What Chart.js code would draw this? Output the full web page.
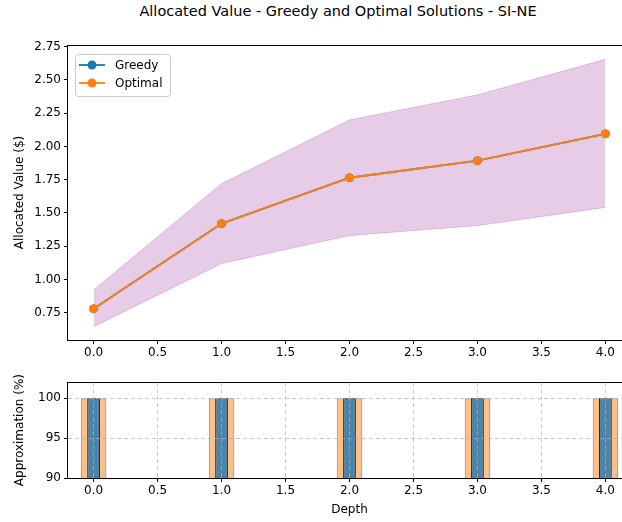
<!DOCTYPE html>
<html>
<head>
<meta charset="utf-8">
<script src="https://cdn.jsdelivr.net/npm/chart.js@4"></script>
<style>
  html, body { margin: 0; padding: 0; background: #fff; overflow: hidden; width: 622px; height: 522px; }
  #title { position: absolute; left: 0; width: 676px; top: 3px; text-align: center;
           font: 14.5px "DejaVu Sans"; color: #000; white-space: nowrap; }
  #valueChart { position: absolute; left: 0; top: 0; }
  #approxChart { position: absolute; left: 0; top: 372px; }
</style>
</head>
<body>
<div id="title">Allocated Value - Greedy and Optimal Solutions - SI-NE</div>
<canvas id="valueChart" width="650" height="372"></canvas>
<canvas id="approxChart" width="650" height="150"></canvas>
<script>
// Depth levels and results
const depths = [0, 1, 2, 3, 4];
const greedyValue  = [0.78, 1.42, 1.765, 1.893, 2.095];
const optimalValue = [0.78, 1.42, 1.765, 1.893, 2.095];
const rangeUpper   = [0.92, 1.72, 2.20, 2.388, 2.655];
const rangeLower   = [0.645, 1.12, 1.33, 1.405, 1.542];
const greedyApprox  = [100, 100, 100, 100, 100];
const optimalApprox = [100, 100, 100, 100, 100];

// Tick labels
const depthTicks  = [0, 0.5, 1, 1.5, 2, 2.5, 3, 3.5, 4];
const valueTicks  = [0.75, 1.0, 1.25, 1.5, 1.75, 2.0, 2.25, 2.5, 2.75];
const approxTicks = [90, 95, 100];

const FONT = 'DejaVu Sans';
Chart.defaults.font.family = FONT;
Chart.defaults.font.size = 12;
Chart.defaults.color = '#000';

const BLUE = '#1f77b4';
const ORANGE = '#ff7f0e';

const pts = (ys) => depths.map((d, i) => ({ x: d, y: ys[i] }));

// Axes frame drawn on top of the data
const frame = {
  id: 'frame',
  afterDraw(chart) {
    const a = chart.chartArea, ctx = chart.ctx;
    ctx.save();
    ctx.strokeStyle = '#000';
    ctx.lineWidth = 1;
    ctx.strokeRect(Math.round(a.left) - 0.5, Math.round(a.top) + 0.5,
                   Math.round(a.right - a.left) + 1, Math.round(a.bottom - a.top));
    ctx.restore();
  }
};

// Legend box placed inside the plot area, upper left
const insetLegend = {
  id: 'insetLegend',
  afterDraw(chart) {
    const a = chart.chartArea, ctx = chart.ctx;
    const items = chart.data.datasets.filter(d => d.inLegend);
    const x0 = a.left + 7, y0 = a.top + 9, w = 95, rowH = 18, h = items.length * rowH + 6;
    ctx.save();
    ctx.beginPath();
    ctx.roundRect(x0 + 0.5, y0 + 0.5, w, h, 3);
    ctx.fillStyle = 'rgba(255,255,255,0.8)';
    ctx.fill();
    ctx.strokeStyle = '#cccccc';
    ctx.lineWidth = 1;
    ctx.stroke();
    items.forEach((d, i) => {
      const y = y0 + 11 + i * rowH;
      ctx.strokeStyle = d.borderColor;
      ctx.lineWidth = 1.8;
      ctx.beginPath();
      ctx.moveTo(x0 + 4, y);
      ctx.lineTo(x0 + 30, y);
      ctx.stroke();
      ctx.fillStyle = d.borderColor;
      ctx.beginPath();
      ctx.arc(x0 + 17, y, 4.5, 0, Math.PI * 2);
      ctx.fill();
      ctx.fillStyle = '#000';
      ctx.font = '12px "' + FONT + '"';
      ctx.textBaseline = 'middle';
      ctx.textAlign = 'left';
      ctx.fillText(d.label, x0 + 40, y + 1);
    });
    ctx.restore();
  }
};

const fixedTicks = (list) => (scale) => { scale.ticks = list.map(v => ({ value: v })); };

new Chart(document.getElementById('valueChart'), {
  type: 'line',
  data: {
    datasets: [
      { label: 'Greedy', inLegend: true, data: pts(greedyValue), borderColor: BLUE, backgroundColor: BLUE,
        borderWidth: 1.8, pointRadius: 4, pointBorderWidth: 1, order: 1, fill: false },
      { label: 'Optimal', inLegend: true, data: pts(optimalValue), borderColor: ORANGE, backgroundColor: ORANGE,
        borderWidth: 1.8, pointRadius: 4, pointBorderWidth: 1, order: 0, fill: false },
      { label: 'upper', data: pts(rangeUpper), borderColor: 'rgba(128,0,128,0.2)', borderWidth: 1,
        backgroundColor: 'rgba(128,0,128,0.2)', pointRadius: 0, fill: '+1', order: 2 },
      { label: 'lower', data: pts(rangeLower), borderColor: 'rgba(128,0,128,0.2)', borderWidth: 1,
        backgroundColor: 'rgba(128,0,128,0.2)', pointRadius: 0, fill: false, order: 3 }
    ]
  },
  options: {
    responsive: false,
    animation: false,
    events: [],
    layout: { padding: { top: 45, right: 19, left: 0, bottom: 0 } },
    plugins: { legend: { display: false }, tooltip: { enabled: false } },
    scales: {
      x: {
        type: 'linear', min: -0.2, max: 4.2,
        afterFit(s) { s.height = 32; },
        afterBuildTicks: fixedTicks(depthTicks),
        grid: { drawOnChartArea: false, drawTicks: true, tickLength: 4, tickColor: '#000', color: '#000' },
        border: { display: false },
        ticks: { padding: 2, maxRotation: 0, autoSkip: false, callback: v => Number(v).toFixed(1) }
      },
      y: {
        type: 'linear', min: 0.545, max: 2.763,
        afterFit(s) { s.width = 68; },
        afterBuildTicks: fixedTicks(valueTicks),
        grid: { drawOnChartArea: false, drawTicks: true, tickLength: 4, tickColor: '#000', color: '#000' },
        border: { display: false },
        ticks: { padding: 3, autoSkip: false, callback: v => Number(v).toFixed(2) },
        title: { display: true, text: 'Allocated Value ($)', font: { size: 12 }, padding: { top: 13, bottom: 0 } }
      }
    }
  },
  plugins: [frame, insetLegend]
});

new Chart(document.getElementById('approxChart'), {
  type: 'bar',
  data: {
    datasets: [
      { label: 'Greedy', data: pts(greedyApprox), backgroundColor: 'rgba(31,119,180,0.8)',
        borderColor: 'rgba(0,0,0,0.8)', borderWidth: 1, grouped: false,
        barPercentage: 0.2, categoryPercentage: 1, order: 0 },
      { label: 'Optimal', data: pts(optimalApprox), backgroundColor: 'rgba(255,127,14,0.5)',
        borderColor: 'rgba(0,0,0,0.45)', borderWidth: 1, grouped: false,
        barPercentage: 0.4, categoryPercentage: 1, order: 1 }
    ]
  },
  options: {
    responsive: false,
    animation: false,
    events: [],
    layout: { padding: { top: 8, right: 19, left: 0, bottom: 0 } },
    plugins: { legend: { display: false }, tooltip: { enabled: false } },
    scales: {
      x: {
        type: 'linear', min: -0.2, max: 4.2, offset: false,
        afterFit(s) { s.height = 44; },
        afterBuildTicks: fixedTicks(depthTicks),
        grid: { offset: false, drawOnChartArea: true, drawTicks: true, tickLength: 4, tickColor: '#000',
                color: 'rgba(176,176,176,0.7)', lineWidth: 1, z: 1 },
        border: { display: false, dash: [4, 3] },
        ticks: { padding: 2, maxRotation: 0, autoSkip: false, callback: v => Number(v).toFixed(1) },
        title: { display: true, text: 'Depth', font: { size: 12 }, padding: { top: 0, bottom: 5 } }
      },
      y: {
        type: 'linear', min: 90, max: 102,
        afterFit(s) { s.width = 68; },
        afterBuildTicks: fixedTicks(approxTicks),
        grid: { drawOnChartArea: true, drawTicks: true, tickLength: 4, tickColor: '#000',
                color: 'rgba(176,176,176,0.7)', lineWidth: 1, z: 1 },
        border: { display: false, dash: [4, 3] },
        ticks: { padding: 3, autoSkip: false, callback: v => String(v) },
        title: { display: true, text: 'Approximation (%)', font: { size: 12 }, padding: { top: 13, bottom: 0 } }
      }
    }
  },
  plugins: [frame]
});
</script>
</body>
</html>
